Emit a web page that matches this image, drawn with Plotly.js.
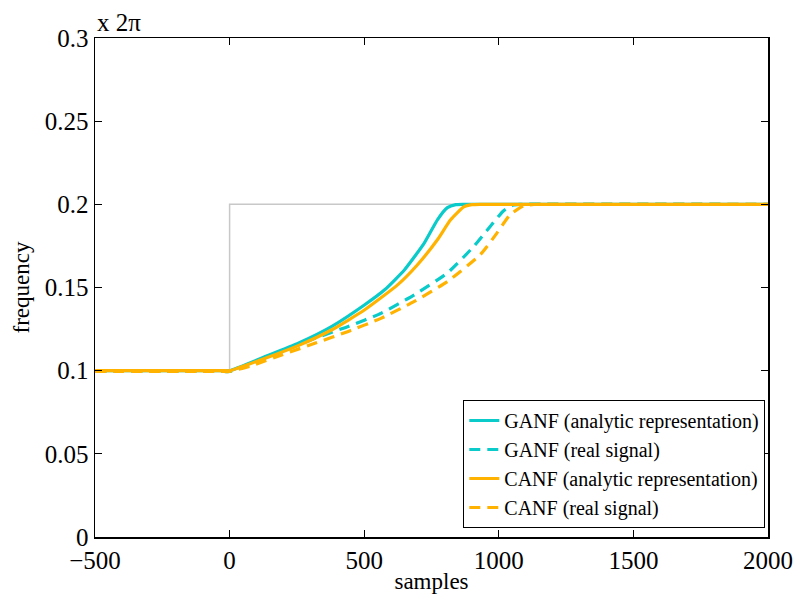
<!DOCTYPE html>
<html>
<head>
<meta charset="utf-8">
<script src="https://cdn.plot.ly/plotly-3.0.1.min.js"></script>
<style>html,body{margin:0;padding:0;background:#fff;}</style>
</head>
<body>
<div id="chart" style="width:797px;height:597px;"></div>
<script>
// Reference (true) frequency step
var refX = [-500, 0, 0, 2000];
var refY = [0.1, 0.1, 0.2, 0.2];

// GANF (analytic representation)
var ganfAX = [-500, -20, 0, 135, 257, 380, 502, 576, 650, 723, 772, 809, 840, 870, 2000];
var ganfAY = [0.1, 0.1, 0.1, 0.1086, 0.1166, 0.1266, 0.1396, 0.1486, 0.1607, 0.1767, 0.1907, 0.1980, 0.1998, 0.2, 0.2];

// GANF (real signal)
var ganfRX = [-500, -20, 0, 74, 196, 319, 441, 564, 686, 809, 907, 968, 1017, 1054, 1080, 2000];
var ganfRY = [0.0995, 0.0995, 0.0995, 0.1036, 0.1116, 0.1196, 0.1266, 0.1346, 0.1456, 0.1587, 0.1747, 0.1867, 0.1960, 0.1996, 0.2, 0.2];

// CANF (analytic representation)
var canfAX = [-500, -20, 0, 135, 257, 380, 502, 625, 698, 772, 821, 870, 900, 930, 2000];
var canfAY = [0.1, 0.1, 0.1, 0.1076, 0.1152, 0.1246, 0.1366, 0.1517, 0.1637, 0.1787, 0.1907, 0.1985, 0.1998, 0.2, 0.2];

// CANF (real signal)
var canfRX = [-500, -20, 0, 74, 196, 319, 441, 564, 686, 809, 931, 993, 1042, 1091, 1130, 1160, 2000];
var canfRY = [0.0995, 0.0995, 0.0995, 0.1026, 0.1096, 0.1166, 0.1236, 0.1316, 0.1416, 0.1536, 0.1697, 0.1827, 0.1937, 0.1990, 0.1999, 0.2, 0.2];

var xTicks = [-500, 0, 500, 1000, 1500, 2000];
var xTickText = ['\u2212500', '0', '500', '1000', '1500', '2000'];
var yTicks = [0, 0.05, 0.1, 0.15, 0.2, 0.25, 0.3];
var yTickText = ['0', '0.05', '0.1', '0.15', '0.2', '0.25', '0.3'];

var cyan = '#0acaca';
var orange = '#ffb300';
var font = 'Liberation Serif, Times New Roman, serif';

var traces = [
  {x: refX, y: refY, mode: 'lines', line: {color: '#c8c8c8', width: 1.5}, showlegend: false, hoverinfo: 'skip'},
  {x: ganfAX, y: ganfAY, mode: 'lines', name: 'GANF (analytic representation)', line: {color: cyan, width: 3.2, shape: 'spline', smoothing: 0.5}},
  {x: ganfRX, y: ganfRY, mode: 'lines', name: 'GANF (real signal)', line: {color: cyan, width: 3.2, dash: '11px,7px', shape: 'spline', smoothing: 0.5}},
  {x: canfAX, y: canfAY, mode: 'lines', name: 'CANF (analytic representation)', line: {color: orange, width: 3.2, shape: 'spline', smoothing: 0.5}},
  {x: canfRX, y: canfRY, mode: 'lines', name: 'CANF (real signal)', line: {color: orange, width: 3.2, dash: '11px,7px', shape: 'spline', smoothing: 0.5}}
];

var layout = {
  width: 797, height: 597,
  margin: {l: 95, r: 29, t: 38, b: 60},
  paper_bgcolor: '#fff', plot_bgcolor: '#fff',
  font: {family: font, size: 25, color: '#000'},
  xaxis: {
    range: [-500, 2000], tickvals: xTicks, ticktext: xTickText,
    ticks: 'inside', ticklen: 7, tickwidth: 1, tickcolor: '#000',
    showline: true, linecolor: '#000', linewidth: 1.5, mirror: 'ticks',
    showgrid: false, zeroline: false,
    tickfont: {family: font, size: 25, color: '#000'},
    title: {text: 'samples', font: {family: font, size: 23, color: '#000'}, standoff: 0}
  },
  yaxis: {
    range: [0, 0.3], tickvals: yTicks, ticktext: yTickText,
    ticks: 'inside', ticklen: 7, tickwidth: 1, tickcolor: '#000',
    showline: true, linecolor: '#000', linewidth: 1.5, mirror: 'ticks',
    showgrid: false, zeroline: false,
    tickfont: {family: font, size: 25, color: '#000'},
    title: {text: 'frequency', font: {family: font, size: 23, color: '#000'}, standoff: 8}
  },
  legend: {
    x: 0.996, y: 0.018, xanchor: 'right', yanchor: 'bottom',
    bgcolor: '#fff', bordercolor: '#000', borderwidth: 1,
    font: {family: font, size: 20, color: '#000'},
    tracegroupgap: 0
  },
  annotations: [{
    xref: 'paper', yref: 'paper', x: 0, y: 1, xanchor: 'left', yanchor: 'bottom',
    text: 'x 2\u03c0', showarrow: false, font: {family: font, size: 25, color: '#000'}, yshift: 0
  }]
};

Plotly.newPlot('chart', traces, layout, {displayModeBar: false, staticPlot: true});
</script>
</body>
</html>
